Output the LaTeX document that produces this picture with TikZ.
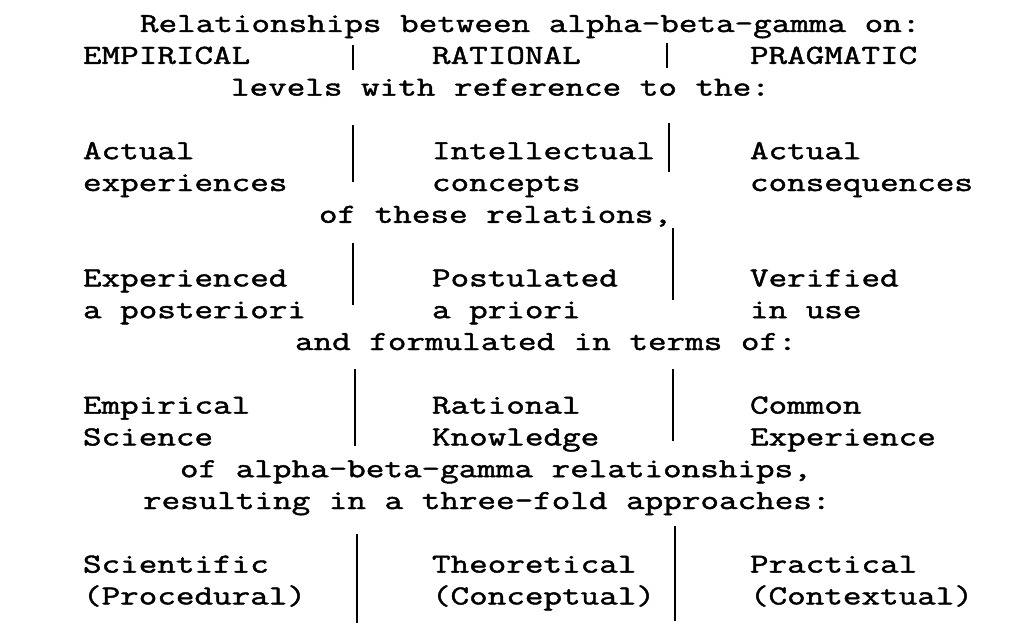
\documentclass[tikz,border=0pt]{standalone}
\usepackage{fontspec}
% typewriter face: serif monospace, widened and thickened
\newfontfamily\typewriter[FakeStretch=1.312,FakeBold=1.6]{Latin Modern Mono}
\tikzset{
  tw/.style={anchor=base west, inner sep=0pt, outer sep=0pt,
             font=\typewriter\fontsize{27.5}{32}\selectfont, text=black},
  bar/.style={line width=2.4pt, black}
}
\begin{document}
\begin{tikzpicture}[x=1pt,y=-1pt]
\useasboundingbox (0,0) rectangle (1017,626);
\fill[white] (0,0) rectangle (1017,626);

% column origins
\def\ca{83}
\def\cb{432}
\def\cc{750}

% heading
\node[tw] (head) at (140,32) {Relationships between alpha-beta-gamma on:};
\node[tw] (emp)  at (\ca,63.8) {EMPIRICAL};
\node[tw] (rat)  at (\cb,63.8) {RATIONAL};
\node[tw] (prg)  at (\cc,63.8) {PRAGMATIC};
\node[tw] (lev)  at (231,95.6) {levels with reference to the:};

% block 1
\node[tw] (act1) at (\ca,159.2) {Actual};
\node[tw] (int)  at (\cb,159.2) {Intellectual};
\node[tw] (act2) at (\cc,159.2) {Actual};
\node[tw] (exps) at (\ca,191) {experiences};
\node[tw] (conc) at (\cb,191) {concepts};
\node[tw] (cons) at (\cc,191) {consequences};
\node[tw] (rels) at (319,222.8) {of these relations,};

% block 2
\node[tw] (expd) at (\ca,286.4) {Experienced};
\node[tw] (post) at (\cb,286.4) {Postulated};
\node[tw] (veri) at (\cc,286.4) {Verified};
\node[tw] (apost) at (\ca,318.2) {a posteriori};
\node[tw] (aprio) at (\cb,318.2) {a priori};
\node[tw] (inuse) at (\cc,318.2) {in use};
\node[tw] (form) at (295,350) {and formulated in terms of:};

% block 3
\node[tw] (empl) at (\ca,413.6) {Empirical};
\node[tw] (ratl) at (\cb,413.6) {Rational};
\node[tw] (comm) at (\cc,413.6) {Common};
\node[tw] (sci)  at (\ca,445.4) {Science};
\node[tw] (know) at (\cb,445.4) {Knowledge};
\node[tw] (expc) at (\cc,445.4) {Experience};
\node[tw] (abg)  at (180,477.2) {of alpha-beta-gamma relationships,};
\node[tw] (res)  at (143,509) {resulting in a three-fold approaches:};

% block 4
\node[tw] (scif) at (\ca,572.6) {Scientific};
\node[tw] (theo) at (\cb,572.6) {Theoretical};
\node[tw] (prac) at (\cc,572.6) {Practical};
\node[tw] (proc) at (\ca,604.4) {(Procedural)};
\node[tw] (cncp) at (\cb,604.4) {(Conceptual)};
\node[tw] (cntx) at (\cc,604.4) {(Contextual)};

% column separators
\coordinate (s1at) at (353,45);  \coordinate (s1ab) at (353,70);
\coordinate (s1bt) at (667,43);  \coordinate (s1bb) at (667,68);
\coordinate (s2at) at (353,125); \coordinate (s2ab) at (353,182);
\coordinate (s2bt) at (669,123); \coordinate (s2bb) at (669,172);
\coordinate (s3at) at (353,243); \coordinate (s3ab) at (353,305);
\coordinate (s3bt) at (673,228); \coordinate (s3bb) at (673,300);
\coordinate (s4at) at (355,369); \coordinate (s4ab) at (355,446);
\coordinate (s4bt) at (673,369); \coordinate (s4bb) at (673,441);
\coordinate (s5at) at (357,534); \coordinate (s5ab) at (357,623);
\coordinate (s5bt) at (675,526); \coordinate (s5bb) at (675,621);
\foreach \r in {1,...,5}{
  \draw[bar] (s\r at) -- (s\r ab);
  \draw[bar] (s\r bt) -- (s\r bb);
}
\end{tikzpicture}
\end{document}
